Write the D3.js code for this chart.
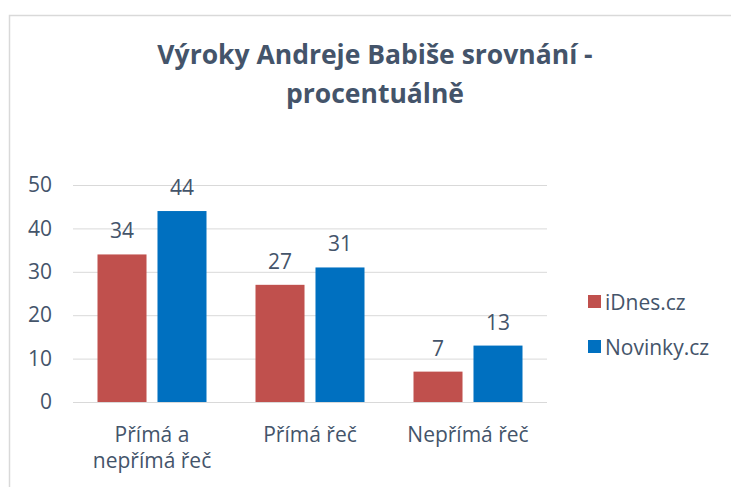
<!DOCTYPE html>
<html>
<head>
<meta charset="utf-8">
<script src="https://cdn.jsdelivr.net/npm/d3@7"></script>
<style>
  body { margin: 0; background: #fff; }
  text { font-family: "Open Sans", sans-serif; fill: #44546A; }
</style>
</head>
<body>
<div id="chart"></div>
<script>
const categories = [["Přímá a", "nepřímá řeč"], ["Přímá řeč"], ["Nepřímá řeč"]];
const seriesNames = ["iDnes.cz", "Novinky.cz"];
const idnesValues = [34, 27, 7];
const novinkyValues = [44, 31, 13];
const yTicks = [0, 10, 20, 30, 40, 50];
const colors = ["#C0504D", "#0070C0"];

const W = 731, H = 487;
const margin = {top: 185, right: 184, bottom: 85, left: 73};
const plotW = W - margin.left - margin.right;
const plotH = H - margin.top - margin.bottom;
const fs = "21px";

const svg = d3.select("#chart").append("svg")
  .attr("width", W).attr("height", H);

// chart frame
svg.append("path")
  .attr("d", `M9.5,${H} V15.5 H${W}`)
  .attr("fill", "none").attr("stroke", "#D9D9D9").attr("stroke-width", 1.5);

// title
const title = svg.append("text")
  .attr("text-anchor", "middle")
  .attr("font-size", "26.5px").attr("font-weight", "bold");
title.append("tspan").attr("x", 375).attr("y", 64).text("Výroky Andreje Babiše srovnání -");
title.append("tspan").attr("x", 375).attr("y", 103).text("procentuálně");

const g = svg.append("g").attr("transform", `translate(${margin.left},${margin.top})`);

const y = d3.scaleLinear().domain([0, 50]).range([plotH, 0]);
const x0 = d3.scaleBand().domain(d3.range(categories.length)).range([0, plotW]);
const groupW = 109;
const x1 = d3.scaleBand().domain(d3.range(seriesNames.length))
  .range([0, groupW]).paddingInner(0.183);

// grid lines
g.append("g").selectAll("line").data(yTicks).join("line")
  .attr("x1", 0).attr("x2", plotW)
  .attr("y1", d => y(d) + 0.5).attr("y2", d => y(d) + 0.5)
  .attr("stroke", "#D9D9D9").attr("stroke-width", 1);

// y axis labels
const yAxis = d3.axisLeft(y).tickValues(yTicks).tickSize(0).tickPadding(21);
const ya = g.append("g").call(yAxis);
ya.select(".domain").remove();
ya.selectAll("text").attr("font-size", fs).attr("fill", "#44546A")
  .attr("font-family", "'Open Sans', sans-serif");

// bars
const data = [];
categories.forEach((c, i) => {
  data.push({cat: i, s: 0, v: idnesValues[i]});
  data.push({cat: i, s: 1, v: novinkyValues[i]});
});
const groupOff = (x0.bandwidth() - groupW) / 2;
g.selectAll("rect.bar").data(data).join("rect")
  .attr("class", "bar")
  .attr("x", d => x0(d.cat) + groupOff + x1(d.s))
  .attr("y", d => y(d.v))
  .attr("width", x1.bandwidth())
  .attr("height", d => plotH - y(d.v))
  .attr("fill", d => colors[d.s]);

// value labels
g.selectAll("text.val").data(data).join("text")
  .attr("class", "val")
  .attr("x", d => x0(d.cat) + groupOff + x1(d.s) + x1.bandwidth() / 2)
  .attr("y", d => y(d.v) - 16)
  .attr("text-anchor", "middle").attr("font-size", fs)
  .text(d => d.v);

// category labels
const catText = g.selectAll("text.cat").data(categories).join("text")
  .attr("class", "cat")
  .attr("text-anchor", "middle").attr("font-size", fs);
catText.each(function(lines, i) {
  const t = d3.select(this);
  lines.forEach((ln, k) => {
    t.append("tspan")
      .attr("x", x0(i) + x0.bandwidth() / 2)
      .attr("y", plotH + 40 + k * 26)
      .text(ln);
  });
});

// legend
const legend = svg.append("g").attr("transform", "translate(588,0)");
seriesNames.forEach((name, i) => {
  const ly = 310 + i * 45;
  legend.append("rect").attr("x", 0).attr("y", ly - 15)
    .attr("width", 13).attr("height", 13).attr("fill", colors[i]);
  legend.append("text").attr("x", 17).attr("y", ly)
    .attr("font-size", fs).text(name);
});
</script>
</body>
</html>
